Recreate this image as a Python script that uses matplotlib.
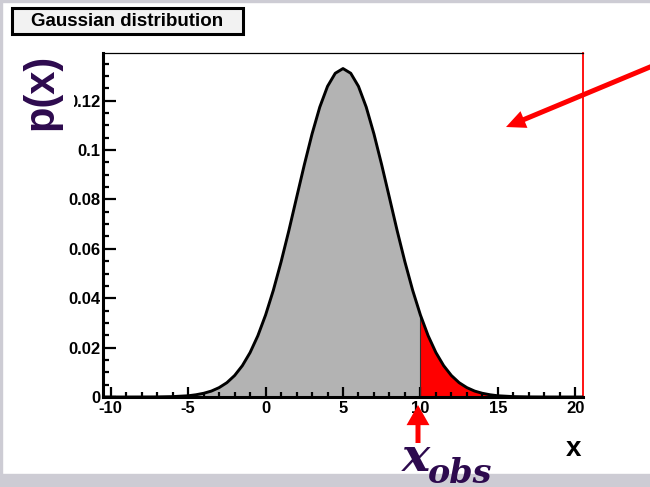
#-------------------------------------------------------------------------
# Imports
import matplotlib
matplotlib.use("Agg")

import matplotlib.pyplot as plt
import numpy             as np
from matplotlib.patches import Rectangle
from matplotlib.ticker  import MultipleLocator

plt.rcParams['font.family'] = ['Liberation Sans', 'DejaVu Sans']

#-------------------------------------------------------------------------
# Data

x_vals = [-10.5, -10.0, -9.0, -8.0, -7.0, -6.0, -5.0, -4.5, -4.0, -3.5,
          -3.0, -2.5, -2.0, -1.5, -1.0, -0.5, 0.0, 0.5, 1.0, 1.5,
          2.0, 2.5, 3.0, 3.5, 4.0, 4.5, 5.0, 5.5, 6.0, 6.5,
          7.0, 7.5, 8.0, 8.5, 9.0, 9.5, 10.0, 10.5, 11.0, 11.5,
          12.0, 12.5, 13.0, 13.5, 14.0, 14.5, 15.0, 16.0, 17.0, 18.0,
          19.0, 20.0, 20.5]

p_vals = [0.0, 0.0, 0.0, 0.00001, 0.00004, 0.00016, 0.0005, 0.0009, 0.0015, 0.0024,
          0.0038, 0.0058, 0.0087, 0.0127, 0.0180, 0.0248, 0.0332, 0.0432, 0.0547, 0.0673,
          0.0807, 0.0940, 0.1065, 0.1174, 0.1258, 0.1311, 0.1330, 0.1311, 0.1258, 0.1174,
          0.1065, 0.0940, 0.0807, 0.0673, 0.0547, 0.0432, 0.0332, 0.0248, 0.0180, 0.0127,
          0.0087, 0.0058, 0.0038, 0.0024, 0.0015, 0.0009, 0.0005, 0.00016, 0.00004, 0.00001,
          0.0, 0.0, 0.0]

x_obs = 10.0

xtick_vals   = [-10, -5, 0, 5, 10, 15, 20]
xtick_labels = ['-10', '-5', '0', '5', '10', '15', '20']
ytick_vals   = [0, 0.02, 0.04, 0.06, 0.08, 0.1, 0.12]
ytick_labels = ['0', '0.02', '0.04', '0.06', '0.08', '0.1', '0.12']

#-------------------------------------------------------------------------
# Plot parameters

W, H       = 650, 487
gray_fill  = '#b3b3b3'
band_color = '#cdccd4'
purple     = '#2d0a4e'

x = np.array(x_vals)
p = np.array(p_vals)

#-------------------------------------------------------------------------
# Figure

fig = plt.figure(figsize=(W/100, H/100), dpi=100)
fig.patch.set_facecolor('white')

# grey frame strips
fig.patches.append(Rectangle((0, 0), 1, 13/H, transform=fig.transFigure, color=band_color, zorder=0))
fig.patches.append(Rectangle((0, 1-2/H), 1, 2/H, transform=fig.transFigure, color=band_color, zorder=0))
fig.patches.append(Rectangle((0, 0), 1.5/W, 1, transform=fig.transFigure, color=band_color, zorder=0))

ax = fig.add_axes([103/W, 90/H, 480/W, 344/H])

ax.fill_between(x, p, where=x <= x_obs, color=gray_fill, lw=0, zorder=1)
ax.fill_between(x, p, where=x >= x_obs, color='red',     lw=0, zorder=1)
ax.plot([x_obs, x_obs], [0, p_vals[x_vals.index(x_obs)]], color='#333333', lw=0.8, zorder=2)
ax.plot(x, p, color='black', lw=2.1, zorder=3)

ax.set_xlim(-10.5, 20.5)
ax.set_ylim(0, 0.1393)

ax.set_xticks(xtick_vals)
ax.set_xticklabels(xtick_labels, fontweight='bold', fontsize=12)
ax.set_yticks(ytick_vals)
ax.set_yticklabels(ytick_labels, fontweight='bold', fontsize=12)
ax.xaxis.set_minor_locator(MultipleLocator(1))
ax.yaxis.set_minor_locator(MultipleLocator(0.005))

ax.tick_params(axis='x', which='major', direction='in', length=7.5, width=1.6, pad=3)
ax.tick_params(axis='x', which='minor', direction='in', length=3.8, width=1.6)
ax.tick_params(axis='y', which='major', direction='in', length=9.0, width=1.6, pad=2)
ax.tick_params(axis='y', which='minor', direction='in', length=4.5, width=1.6)

for side in ['left', 'bottom']:
    ax.spines[side].set_linewidth(2.2)
ax.spines['top'].set_linewidth(0.9)
ax.spines['right'].set_linewidth(1.3)
ax.spines['right'].set_color('red')

#-------------------------------------------------------------------------
# Title box and labels

fig.patches.append(Rectangle((12/W, 1-34/H), 231/W, 26/H, transform=fig.transFigure,
                             fc='#f2f2f2', ec='black', lw=2.2, zorder=2))
fig.text(127/W, 1-21/H, 'Gaussian distribution', ha='center', va='center',
         fontsize=13.5, fontweight='bold', zorder=3)

# the p(x) label sits on a white patch that hides the leading 0 of 0.12
fig.text(41/W, 1-92/H, 'p(x)', rotation=90, ha='center', va='center',
         fontsize=30, fontweight='bold', color=purple, zorder=5,
         bbox=dict(fc='white', ec='none', pad=9))

fig.text(574/W, 1-449/H, 'x', ha='center', va='center', fontsize=20, fontweight='bold')

fig.text(402/W, 1-471/H, 'x', ha='left', va='baseline', fontsize=34, color=purple,
         family='DejaVu Serif', style='italic', fontweight='bold', zorder=5)
fig.text(428/W, 1-483/H, 'obs', ha='left', va='baseline', fontsize=24, color=purple,
         family='DejaVu Serif', style='italic', fontweight='bold', zorder=5)

#-------------------------------------------------------------------------
# Red arrows

ax.annotate('', xy=(506, H-127), xytext=(662, H-62), xycoords='figure pixels',
            textcoords='figure pixels', annotation_clip=False,
            arrowprops=dict(arrowstyle='simple,head_length=1.4,head_width=1.3,tail_width=0.36',
                            mutation_scale=10, fc='red', ec='none', shrinkA=0, shrinkB=0))
ax.annotate('', xy=(418, H-405), xytext=(418, H-443), xycoords='figure pixels',
            textcoords='figure pixels', annotation_clip=False,
            arrowprops=dict(arrowstyle='simple,head_length=1.45,head_width=1.65,tail_width=0.36',
                            mutation_scale=10, fc='red', ec='none', shrinkA=0, shrinkB=0))

#-------------------------------------------------------------------------
# Saving

plt.savefig('out.png', dpi=100)
